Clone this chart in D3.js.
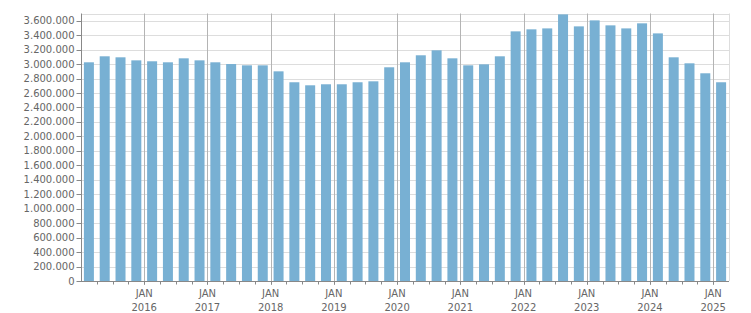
<!DOCTYPE html>
<html>
<head>
<meta charset="utf-8">
<script src="https://cdn.jsdelivr.net/npm/d3@7"></script>
<style>
  body { margin: 0; background: #fff; }
  svg text { font-family: "DejaVu Sans", Verdana, sans-serif; font-size: 10px; fill: #666; }
</style>
</head>
<body>
<svg id="chart" width="751" height="313"></svg>
<script>
// quarterly data, 2015 Q1 .. 2025 Q1
const startYear = 2015;
const values = [
  3025000, 3108000, 3094000, 3052000,
  3039000, 3025000, 3080000, 3052000,
  3025000, 3001000, 2983000, 2983000,
  2900000, 2749000, 2707000, 2721000,
  2721000, 2749000, 2762000, 2956000,
  3025000, 3122000, 3191000, 3080000,
  2983000, 2997000, 3108000, 3453000,
  3481000, 3494000, 3688000, 3522000,
  3605000, 3536000, 3494000, 3564000,
  3425000, 3094000, 3011000, 2873000,
  2749000
];
const yearLabels = [2016, 2017, 2018, 2019, 2020, 2021, 2022, 2023, 2024, 2025];
const yTicks = d3.range(0, 3600001, 200000);

const svg = d3.select("#chart");
const margin = {top: 13.5, right: 22, bottom: 32, left: 81};
const W = 751, H = 313;

const x = d3.scaleLinear().domain([0, values.length]).range([margin.left, W - margin.right]);
const y = d3.scaleLinear().domain([0, 3700000]).range([H - margin.bottom, margin.top]);

const fmt = d3.formatLocale({decimal: ",", thousands: ".", grouping: [3], currency: ["", ""]}).format(",d");

// horizontal grid
svg.append("g").selectAll("line").data(yTicks.concat([3700000])).join("line")
  .attr("x1", margin.left).attr("x2", W - margin.right)
  .attr("y1", d => Math.round(y(d)) + 0.5).attr("y2", d => Math.round(y(d)) + 0.5)
  .attr("stroke", "#dddddd");

// right border
svg.append("line")
  .attr("x1", Math.round(x(values.length)) + 0.5).attr("x2", Math.round(x(values.length)) + 0.5)
  .attr("y1", y(3700000)).attr("y2", y(0))
  .attr("stroke", "#dddddd");

// year lines
const yearIdx = yearLabels.map(yr => (yr - startYear) * 4);
svg.append("g").selectAll("line").data(yearIdx).join("line")
  .attr("x1", d => Math.round(x(d)) + 0.5).attr("x2", d => Math.round(x(d)) + 0.5)
  .attr("y1", y(3700000)).attr("y2", y(0) + 4)
  .attr("stroke", "#b4b4b4");

// bars
const bw = 10;
svg.append("g").selectAll("rect").data(values).join("rect")
  .attr("x", (d, i) => x(i + 0.5) - bw / 2)
  .attr("width", bw)
  .attr("y", d => y(d))
  .attr("height", d => y(0) - y(d))
  .attr("fill", "#78b0d3");

// y axis
const yAxis = svg.append("g").attr("transform", `translate(${margin.left + 0.5},0)`);
yAxis.append("line").attr("y1", y(3700000)).attr("y2", y(0)).attr("stroke", "#888");
yAxis.selectAll("line.t").data(yTicks).join("line").attr("class", "t")
  .attr("x1", -5).attr("x2", 0)
  .attr("y1", d => Math.round(y(d)) + 0.5).attr("y2", d => Math.round(y(d)) + 0.5)
  .attr("stroke", "#888");
yAxis.selectAll("text").data(yTicks).join("text")
  .attr("x", -7).attr("y", d => y(d)).attr("dy", "0.35em")
  .attr("text-anchor", "end")
  .text(d => fmt(d));

// x axis
const y0 = Math.round(y(0)) + 0.5;
svg.append("line").attr("x1", margin.left).attr("x2", W - margin.right)
  .attr("y1", y0).attr("y2", y0).attr("stroke", "#888");
svg.append("g").selectAll("line").data(d3.range(1, values.length)).join("line")
  .attr("x1", d => Math.round(x(d)) + 0.5).attr("x2", d => Math.round(x(d)) + 0.5)
  .attr("y1", y0).attr("y2", y0 + 3)
  .attr("stroke", "#888");
const xl = svg.append("g").selectAll("g").data(yearLabels).join("g")
  .attr("transform", d => `translate(${x((d - startYear) * 4)},0)`);
xl.append("text").attr("y", 297).attr("text-anchor", "middle").text("JAN");
xl.append("text").attr("y", 311).attr("text-anchor", "middle").text(d => d);
</script>
</body>
</html>
